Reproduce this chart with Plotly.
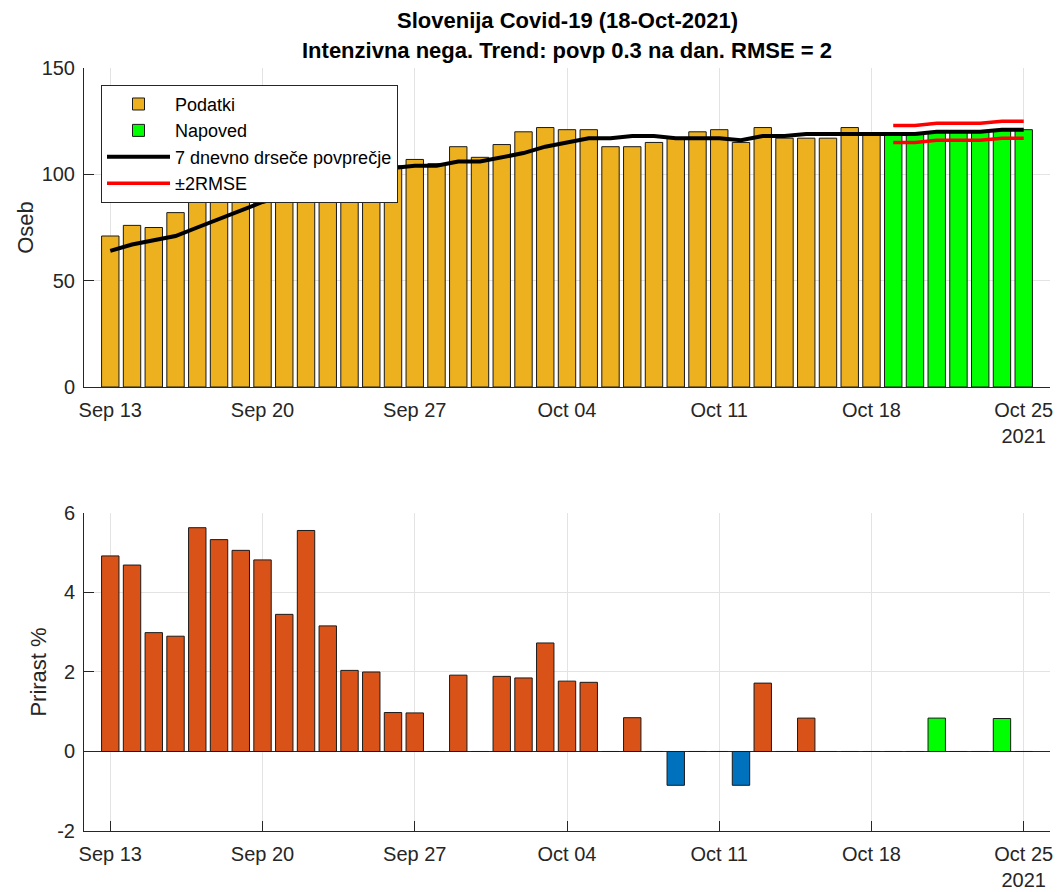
import pandas as pd
import plotly.graph_objects as go

# ---------------- data ----------------
dates = pd.date_range("2021-09-13", "2021-10-25", freq="D")
n_data = 36  # Sep 13 .. Oct 18 are measured, Oct 19 .. Oct 25 forecast
data_dates = dates[:n_data]
fc_dates = dates[n_data:]

podatki = [71, 76, 75, 82, 88, 91, 95, 99, 100, 104, 104, 105, 103, 104,
           107, 105, 113, 108, 114, 120, 122, 121, 121, 113, 113, 115, 117,
           120, 121, 115, 122, 117, 117, 117, 122, 119]
napoved = [119, 119, 120, 120, 120, 121, 121]
drsece = [64, 67, 69, 71, 75, 79, 83, 87, 90, 95, 98, 100, 102, 103, 104, 104,
          106, 106, 108, 110, 113, 115, 117, 117, 118, 118, 117, 117, 117, 116,
          118, 118, 119, 119, 119, 119, 119, 119, 120, 120, 120, 121, 121]
rmse_upper = [123, 123, 124, 124, 124, 125, 125]
rmse_lower = [115, 115, 116, 116, 116, 117, 117]
prirast = [4.92, 4.69, 2.99, 2.90, 5.63, 5.33, 5.06, 4.82, 3.45, 5.56, 3.16,
           2.04, 2.00, 0.98, 0.97, 0, 1.92, 0, 1.89, 1.85, 2.73, 1.77, 1.74, 0,
           0.85, 0, -0.85, 0, 0, -0.85, 1.72, 0, 0.84, 0, 0, 0, 0, 0, 0.84, 0,
           0, 0.83, 0]

tick_dates = ["2021-09-13", "2021-09-20", "2021-09-27", "2021-10-04",
              "2021-10-11", "2021-10-18", "2021-10-25"]
tick_text = ["Sep 13", "Sep 20", "Sep 27", "Oct 04", "Oct 11", "Oct 18",
             "Oct 25<br>2021"]
y1_ticks = [0, 50, 100, 150]
y2_ticks = [-2, 0, 2, 4, 6]
y2_ticktext = ["-2", "0", "2", "4", "6"]

title1 = "Slovenija Covid-19 (18-Oct-2021)"
title2 = "Intenzivna nega. Trend: povp 0.3 na dan. RMSE = 2"

# ---------------- style ----------------
FONT = "Liberation Sans, Arial, Helvetica, sans-serif"
AX = "#262626"
GRID = "#e3e3e3"
C_DATA = "#EDB120"
C_FC = "#00FF00"
C_POS = "#D95319"
C_NEG = "#0072BD"
DAY_MS = 86400000
BAR_W = 0.8 * DAY_MS

lower_colors = []
for i, v in enumerate(prirast):
    if i >= n_data:
        lower_colors.append(C_FC)
    elif v < 0:
        lower_colors.append(C_NEG)
    else:
        lower_colors.append(C_POS)

fig = go.Figure()

fig.add_trace(go.Bar(x=data_dates, y=podatki, width=BAR_W, name="Podatki",
                     marker=dict(color=C_DATA, line=dict(color="#1a1a1a", width=1)),
                     xaxis="x", yaxis="y"))
fig.add_trace(go.Bar(x=fc_dates, y=napoved, width=BAR_W, name="Napoved",
                     marker=dict(color=C_FC, line=dict(color="#1a1a1a", width=1)),
                     xaxis="x", yaxis="y"))
fig.add_trace(go.Scatter(x=dates, y=drsece, mode="lines",
                         name="7 dnevno drseče povprečje",
                         line=dict(color="black", width=4),
                         xaxis="x", yaxis="y"))
fig.add_trace(go.Scatter(x=fc_dates, y=rmse_upper, mode="lines", name="±2RMSE",
                         legendgroup="rmse",
                         line=dict(color="#FF0000", width=3.5),
                         xaxis="x", yaxis="y"))
fig.add_trace(go.Scatter(x=fc_dates, y=rmse_lower, mode="lines", name="±2RMSE",
                         legendgroup="rmse", showlegend=False,
                         line=dict(color="#FF0000", width=3.5),
                         xaxis="x", yaxis="y"))

fig.add_trace(go.Bar(x=dates, y=prirast, width=BAR_W, showlegend=False,
                     marker=dict(color=lower_colors, line=dict(color="#1a1a1a", width=1)),
                     xaxis="x2", yaxis="y2"))

x_range = ["2021-09-11 19:00", "2021-10-26 05:00"]

common_x = dict(type="date", range=x_range, tickvals=tick_dates, ticktext=tick_text,
                ticks="inside", ticklen=10, tickcolor=AX, tickwidth=1,
                showline=True, linecolor=AX, linewidth=1, mirror=False,
                showgrid=True, gridcolor=GRID, gridwidth=1, zeroline=False,
                tickfont=dict(family=FONT, size=20, color=AX),
                ticklabelstandoff=5, layer="below traces", automargin=False)
common_y = dict(ticks="inside", ticklen=10, tickcolor=AX, tickwidth=1,
                showline=True, linecolor=AX, linewidth=1, mirror=False,
                showgrid=True, gridcolor=GRID, gridwidth=1,
                tickfont=dict(family=FONT, size=20, color=AX),
                ticklabelstandoff=4, layer="below traces", automargin=False)

fig.update_layout(
    template="none",
    width=1058, height=892,
    margin=dict(l=84, r=8, t=68, b=61, autoexpand=False),
    paper_bgcolor="white", plot_bgcolor="white",
    barmode="overlay",
    font=dict(family=FONT, color=AX),
    xaxis=dict(domain=[0, 1], anchor="y", **common_x),
    yaxis=dict(domain=[0.5819, 1], anchor="x", range=[0, 150],
               tickvals=y1_ticks, zeroline=False,
               title=dict(text="Oseb", font=dict(family=FONT, size=22, color=AX), standoff=1),
               **common_y),
    xaxis2=dict(domain=[0, 1], anchor="y2", **common_x),
    yaxis2=dict(domain=[0, 0.4168], anchor="x2", range=[-2, 6],
                tickvals=y2_ticks, ticktext=y2_ticktext, zeroline=True,
                zerolinecolor=AX, zerolinewidth=1,
                title=dict(text="Prirast %", font=dict(family=FONT, size=22, color=AX), standoff=4),
                **common_y),
    legend=dict(x=0.0176, y=0.978, xanchor="left", yanchor="top",
                bgcolor="white", bordercolor=AX, borderwidth=1,
                font=dict(family=FONT, size=18, color="black"),
                tracegroupgap=0, itemwidth=63),
    showlegend=True,
    annotations=[
        dict(text="<b>" + title1 + "</b>", xref="paper", yref="paper", x=0.5,
             y=1.0629, xanchor="center", yanchor="middle", showarrow=False,
             font=dict(family=FONT, size=22, color="black")),
        dict(text="<b>" + title2 + "</b>", xref="paper", yref="paper", x=0.5,
             y=1.0223, xanchor="center", yanchor="middle", showarrow=False,
             font=dict(family=FONT, size=22, color="black")),
    ],
)

fig.write_html("out.html", config={"displayModeBar": False},
               post_script="document.body.style.margin='0';")
